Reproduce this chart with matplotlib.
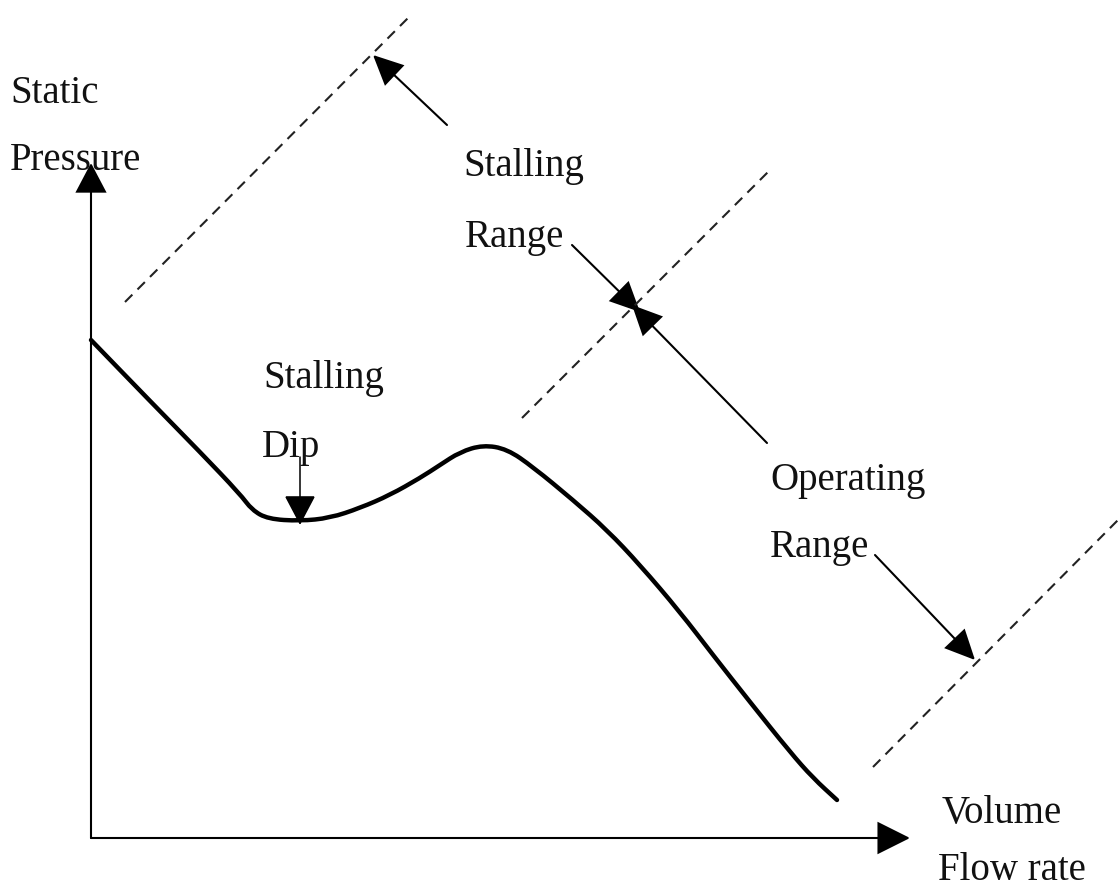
import matplotlib
matplotlib.use('Agg')
import matplotlib.pyplot as plt
from matplotlib.patches import FancyArrowPatch, PathPatch
from matplotlib.path import Path

# Fan characteristic curve (pixel coordinates, y grows downward)
curve_x = [91, 150, 200, 240, 252, 268, 300, 330, 360, 390, 420, 440, 460,
           483, 507, 533, 573, 607, 640, 680, 713, 750, 790, 813, 837]
curve_y = [340, 401, 452, 494, 510, 519, 521, 518, 508, 495, 478, 465, 452,
           445, 449, 467, 500, 530, 565, 612, 655, 702, 752, 778, 800]

# Dashed boundary lines: (x0, y0, x1, y1)
dashed_lines = [
    (125, 302, 412, 14),
    (522, 418, 772, 168),
    (873, 767, 1118, 520),
]

# Axes origin and arrow tips
origin = (91, 838)
y_axis_tip = (91, 163)
x_axis_tip = (910, 838)

# Annotation arrows: (start, tip)
annot_arrows = [
    ((447, 125), (373, 55)),    # stalling range, top
    ((572, 245), (640, 312)),   # stalling range, lower
    ((767, 443), (632, 305)),   # operating range, upper
    ((875, 555), (975, 660)),   # operating range, lower
]
dip_arrow = ((300, 457), (300, 525))

# Labels: (x, baseline y, text)
labels = [
    (10, 103, 'Static'),
    (10, 170, 'Pressure'),
    (463, 176, 'Stalling'),
    (465, 247, 'Range'),
    (263, 388, 'Stalling'),
    (262, 457, 'Dip'),
    (770, 490, 'Operating'),
    (770, 557, 'Range'),
    (942, 823, 'Volume'),
    (938, 880, 'Flow rate'),
]

fig = plt.figure(figsize=(11.18, 8.88), dpi=100)
ax = fig.add_axes([0, 0, 1, 1])
ax.set_xlim(0, 1118)
ax.set_ylim(888, 0)
ax.axis('off')


def arrow(start, tip, lw=1.5, hl=20, hw=10):
    p = FancyArrowPatch(start, tip,
                        arrowstyle=f'-|>,head_length={hl},head_width={hw}',
                        mutation_scale=1, lw=lw, color='black',
                        shrinkA=0, shrinkB=0, joinstyle='miter')
    ax.add_patch(p)


# axes
arrow(origin, y_axis_tip, lw=1.5, hl=19, hw=10)
arrow(origin, x_axis_tip, lw=1.5, hl=21, hw=10.5)

# curve: read points used as quadratic bezier controls for a smooth stroke
pts = list(zip(curve_x, curve_y))
verts = [pts[0]]
codes = [Path.MOVETO]
mid = ((pts[0][0] + pts[1][0]) / 2, (pts[0][1] + pts[1][1]) / 2)
verts.append(mid)
codes.append(Path.LINETO)
for i in range(1, len(pts) - 1):
    nxt = ((pts[i][0] + pts[i + 1][0]) / 2, (pts[i][1] + pts[i + 1][1]) / 2)
    verts += [pts[i], nxt]
    codes += [Path.CURVE3, Path.CURVE3]
verts.append(pts[-1])
codes.append(Path.LINETO)
ax.add_patch(PathPatch(Path(verts, codes), facecolor='none',
                       edgecolor='black', lw=3.2, capstyle='round',
                       joinstyle='round'))

# dashed lines
for x0, y0, x1, y1 in dashed_lines:
    ax.plot([x0, x1], [y0, y1], color='#222222', lw=1.5,
            linestyle=(0, (5, 3.5)))

# annotation arrows
for start, tip in annot_arrows:
    arrow(start, tip, lw=1.5, hl=19, hw=9)
arrow(dip_arrow[0], dip_arrow[1], lw=1.1, hl=19, hw=10)

for x, y, s in labels:
    ax.text(x, y, s, fontsize=28, family='Liberation Serif',
            va='baseline', ha='left', color='#111111')

fig.savefig('out.png', dpi=100)
